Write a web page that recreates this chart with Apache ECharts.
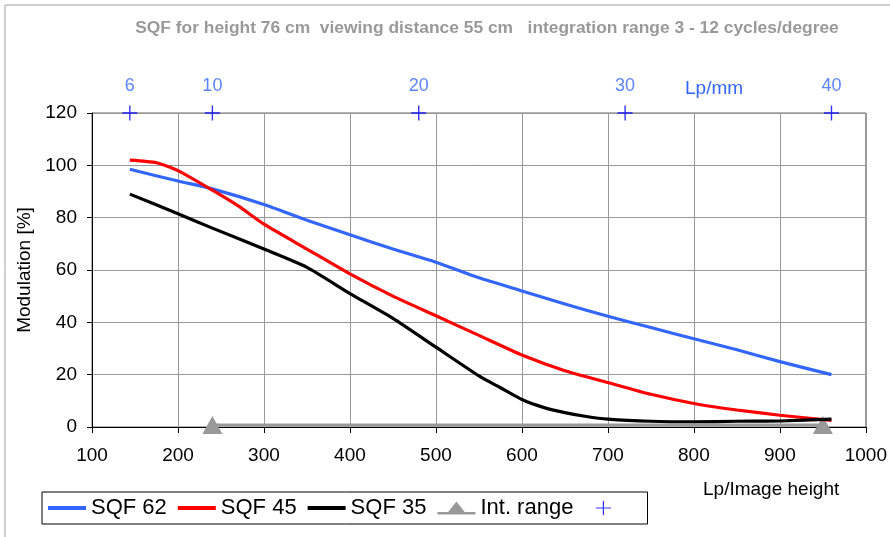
<!DOCTYPE html>
<html><head><meta charset="utf-8">
<script src="https://cdn.jsdelivr.net/npm/echarts@6/dist/echarts.min.js"></script>
<style>html,body{margin:0;padding:0;background:#fff}#c{width:890px;height:537px}</style>
</head><body><div id="c"></div>
<script>
// Lp/Image height vs modulation [%]
const sqf62 = [[144,98.5],[200,94],[240,91],[300,85],[350,79],[400,73.5],[450,68],[500,63],[550,57],[600,52],[650,47],[700,42.3],[750,38],[800,33.7],[850,29.5],[900,25],[960,20]];
const sqf45 = [[144,102],[175,101],[200,98],[240,90.5],[270,84.5],[300,77.5],[350,68],[400,58.5],[450,50],[500,42.5],[550,35],[600,27.5],[650,21.5],[700,17],[750,12.5],[800,9],[850,6.5],[900,4.5],[960,2.5]];
const sqf35 = [[144,89],[200,81.5],[240,76],[300,68],[350,61],[400,51],[450,41.5],[500,30.5],[550,19.5],[575,15],[600,10.5],[625,7.5],[650,5.5],[675,4],[700,3],[750,2.2],[800,2],[850,2.2],[900,2.3],[960,3]];
const intRange = [[240,0.8],[950,0.8]];
const crossX = [144,240,480,720,960];
const crossY = [120,120,120,120,120];
const crossLabels = ['6','10','20','30','40'];

const FONT = 'Liberation Sans, Arial, sans-serif';
const BLUE_TXT = '#3366ff';
const plus = 'path://M0,6.8H15V8.2H0Z M6.8,0H8.2V15H6.8Z';
const lineIcon = 'path://M0,0H38V4H0Z';
const triIcon = 'path://M0,11.5H38V14H0Z M19,1L28.5,13H9.5Z';
const plusIcon = 'path://M0,0M38,14 M11.5,6.4H26.5V7.6H11.5Z M18.4,0H19.6V14H18.4Z';
const chart = echarts.init(document.getElementById('c'));
chart.setOption({
  animation:false,
  textStyle:{fontFamily:FONT},
  title:{text:'SQF for height 76 cm  viewing distance 55 cm   integration range 3 - 12 cycles/degree',
    left:482, textAlign:'center', top:15,
    textStyle:{color:'#999999',fontSize:17.4,fontWeight:'bold',fontFamily:FONT}},
  graphic:[
    {type:'rect',shape:{x:5,y:5,width:900,height:560},style:{fill:'none',stroke:'#a0a0a0',lineWidth:1},silent:true,z:-1},
    {type:'text',x:685,y:89,style:{text:'Lp/mm',fill:BLUE_TXT,font:'19px '+FONT,textVerticalAlign:'middle'}},
    {type:'text',x:703,y:490,style:{text:'Lp/Image height',fill:'#000',font:'19px '+FONT,textVerticalAlign:'middle'}}
  ],
  grid:{left:92,right:23,top:113,bottom:110,show:true,borderColor:'#666',borderWidth:1},
  legend:{left:42,top:492,padding:[5,14,5,6],itemGap:11,itemWidth:38,itemHeight:14,symbolKeepAspect:true,
    borderColor:'#000',borderWidth:1,
    textStyle:{fontSize:22,color:'#000',fontFamily:FONT},
    data:[{name:'SQF 62',icon:lineIcon},{name:'SQF 45',icon:lineIcon},{name:'SQF 35',icon:lineIcon},
          {name:'Int. range',icon:triIcon},{name:' ',icon:plusIcon}]},
  xAxis:{type:'value',min:100,max:1000,interval:100,
    axisLine:{show:true,onZero:false,lineStyle:{color:'#000'}},
    axisTick:{show:true,length:6,lineStyle:{color:'#000'}},
    axisLabel:{fontSize:19,color:'#000',margin:19,fontFamily:FONT,formatter:v=>String(v)},
    splitLine:{show:true,lineStyle:{color:'#999',width:1}}},
  yAxis:{type:'value',min:0,max:120,interval:20,name:'Modulation [%]',nameLocation:'middle',nameGap:57,
    nameTextStyle:{fontSize:19,color:'#000',fontFamily:FONT},
    axisLine:{show:true,lineStyle:{color:'#000'}},
    axisTick:{show:true,length:5,lineStyle:{color:'#000'}},
    axisLabel:{fontSize:19,color:'#000',margin:15,fontFamily:FONT},
    splitLine:{show:true,lineStyle:{color:'#999',width:1}}},
  series:[
    {name:'SQF 62',type:'line',data:sqf62,showSymbol:false,symbol:'none',smooth:0.2,lineStyle:{color:'#3366ff',width:3.2},itemStyle:{color:'#3366ff'}},
    {name:'SQF 45',type:'line',data:sqf45,showSymbol:false,symbol:'none',smooth:0.2,lineStyle:{color:'#ff0000',width:3.2},itemStyle:{color:'#ff0000'}},
    {name:'SQF 35',type:'line',data:sqf35,showSymbol:false,symbol:'none',smooth:0.2,lineStyle:{color:'#000000',width:3.2},itemStyle:{color:'#000000'}},
    {name:'Int. range',type:'line',data:intRange,symbol:'triangle',symbolSize:[20,18],lineStyle:{color:'#999999',width:3},itemStyle:{color:'#999999'},z:1},
    {name:' ',type:'scatter',data:crossX.map((x,i)=>({value:[x,crossY[i]],name:crossLabels[i]})),
      symbol:plus,symbolSize:15,itemStyle:{color:'#0000ff'},clip:false,
      label:{show:true,position:'top',distance:10,formatter:p=>p.name,color:BLUE_TXT,fontSize:18,fontFamily:FONT}}
  ]
});
</script></body></html>
